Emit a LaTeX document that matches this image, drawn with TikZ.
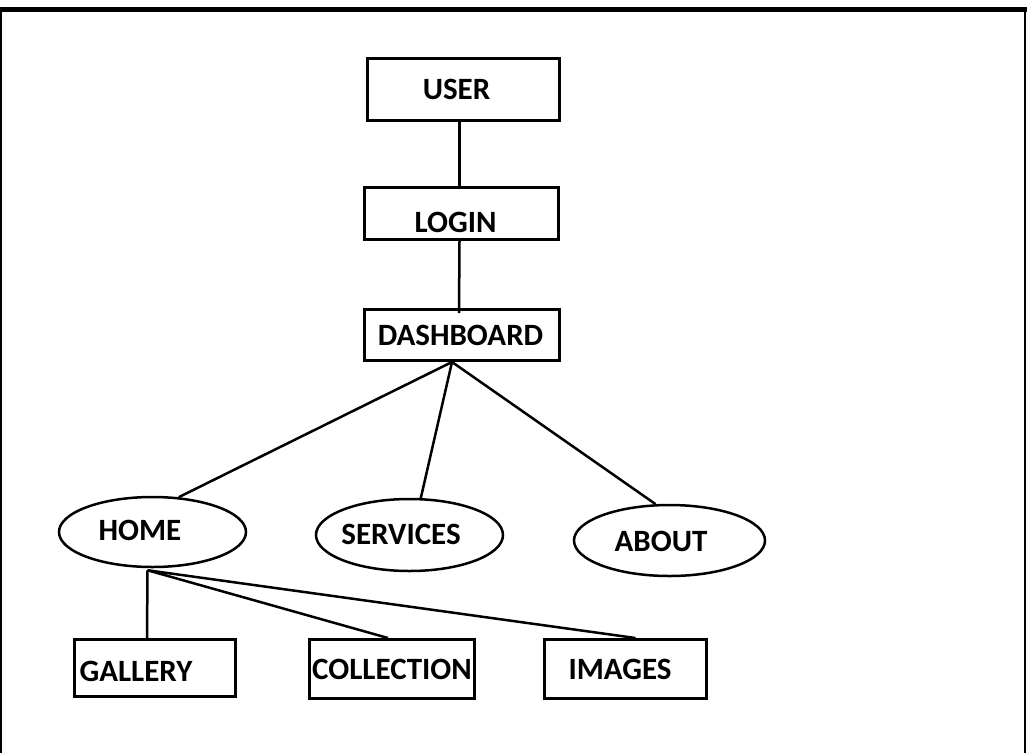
\documentclass[tikz,border=0pt]{standalone}
\usepackage{fontspec}
\setmainfont{Carlito}
\usetikzlibrary{shapes.geometric,calc}
\begin{document}
\begin{tikzpicture}[x=1pt,y=-1pt,
  box/.style={draw,line width=3pt,rectangle,inner sep=0pt},
  oval/.style={draw,line width=2.5pt,ellipse,inner sep=0pt},
  lbl/.style={font=\fontsize{31}{36}\selectfont\bfseries,inner sep=0pt},
  link/.style={line width=2.5pt},
  frameline/.style={line width=2pt}]
\useasboundingbox (0,0) rectangle (1027,753);
% frame
\draw[line width=5pt] (0,9.5) -- (1027,9.5);
\draw[frameline] (1,9.5) -- (1,753);
\draw[frameline] (1024.5,9.5) -- (1024.5,753);
% boxes
\node[box,minimum width=192pt,minimum height=62pt,label={[lbl,xshift=-7pt]center:USER}] (user) at (463.5,89.5) {};
\node[box,minimum width=194pt,minimum height=52pt,label={[lbl,xshift=-6pt,yshift=-8.5pt]center:LOGIN}] (login) at (461.5,213.5) {};
\node[box,minimum width=195pt,minimum height=51pt,label={[lbl,xshift=-1.5pt]center:DASHBOARD}] (dash) at (462,335) {};
% ellipses
\node[oval,minimum width=187pt,minimum height=70pt,label={[lbl,xshift=-12.5pt,yshift=2pt]center:HOME}] (home) at (152.5,532) {};
\node[oval,minimum width=187pt,minimum height=72pt,label={[lbl,xshift=-8.5pt,yshift=1pt]center:SERVICES}] (services) at (409.5,535) {};
\node[oval,minimum width=191pt,minimum height=71pt,label={[lbl,xshift=-8.5pt,yshift=-0.5pt]center:ABOUT}] (about) at (669.5,540.5) {};
% bottom boxes
\node[box,minimum width=161pt,minimum height=57pt,label={[lbl,xshift=-19pt,yshift=-3pt]center:GALLERY}] (gallery) at (155,668) {};
\node[box,minimum width=165pt,minimum height=59pt,label={[lbl]center:COLLECTION}] (collection) at (392,669) {};
\node[box,minimum width=162pt,minimum height=59pt,label={[lbl,xshift=-5.5pt]center:IMAGES}] (images) at (625.5,669) {};
% connectors
\draw[link] ($(user.south)+(-4,0)$) -- ($(login.north)+(-2,0)$);
\draw[link] ($(login.south)+(-2,0)$) -- ($(dash.north)+(-3,5)$);
\coordinate (dhub) at ($(dash.south)+(-10,0)$);
\draw[link] (dhub) -- (home.53);
\draw[link] (dhub) -- (services.73);
\draw[link] (dhub) -- (about.111);
\coordinate (hhub) at ($(home.south)+(-5,2)$);
\draw[link] (hhub) -- ($(gallery.north)+(-8,0)$);
\draw[link] (hhub) -- ($(collection.north)+(-4,0)$);
\draw[link] (hhub) -- ($(images.north)+(10,0)$);
\end{tikzpicture}
\end{document}
